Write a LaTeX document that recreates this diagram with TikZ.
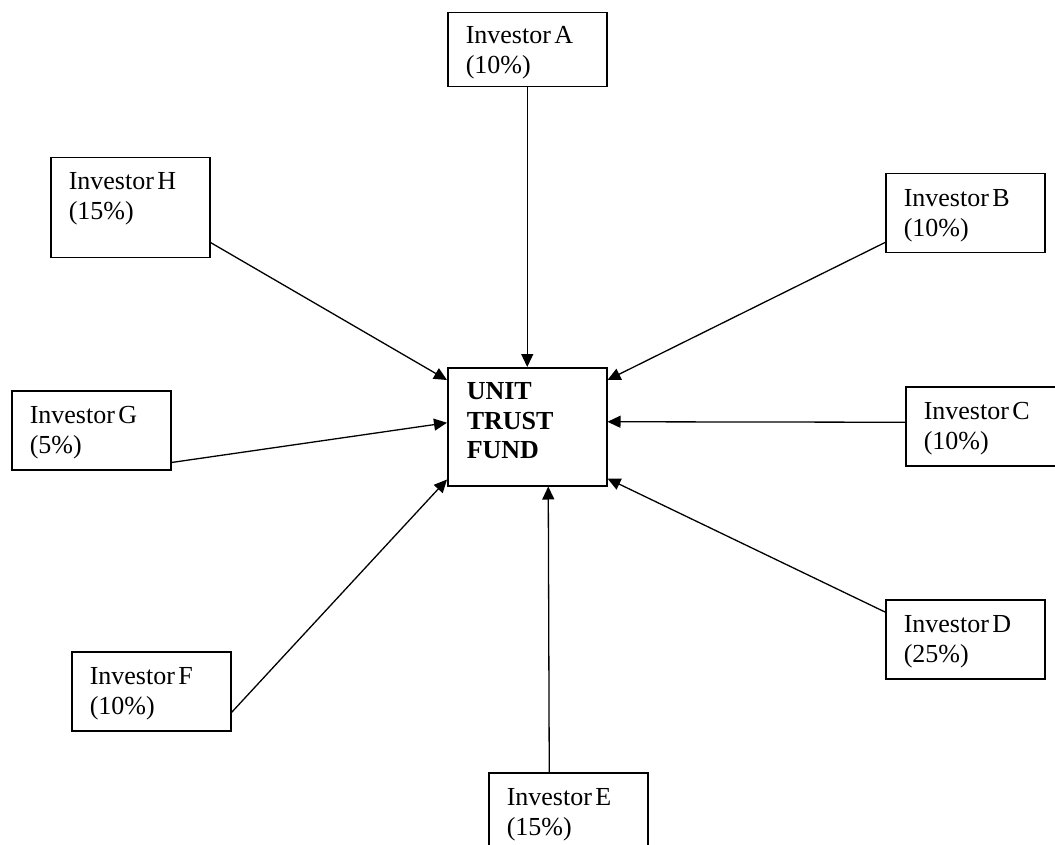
\documentclass[tikz,border=0pt]{standalone}
\usepackage{fontspec}
\setmainfont{Liberation Serif}
\usetikzlibrary{arrows.meta}

\begin{document}
\begin{tikzpicture}[x=1pt, y=-1pt, >={Triangle[length=13pt,width=12pt]},
    every node/.style={font={\fontsize{26}{30}\selectfont}},
    invbox/.style={draw, line width=1.5pt, anchor=north west, align=left, text width=123pt,
        inner xsep=18pt, inner ysep=0pt, text height=33pt, text depth=46pt,
        execute at begin node={\spaceskip=0.13em\relax}},
    link/.style={->, line width=1.3pt}]
            \useasboundingbox (0,0) rectangle (1055,845);
            \node[invbox, text width=121pt, inner xsep=19pt, text height=32pt, text depth=86pt,
                font={\fontsize{26}{29.5}\selectfont\bfseries}] (fund) at (447,367) {UNIT\\TRUST\\FUND};
            \node[invbox, text height=31pt, text depth=43pt] (invA) at (447,12) {Investor A\\(10\%)};
            \node[invbox] (invB) at (885,173) {Investor B\\(10\%)};
            \node[invbox] (invC) at (905,386) {Investor C\\(10\%)};
            \node[invbox] (invD) at (885,599) {Investor D\\(25\%)};
            \node[invbox] (invE) at (488,772) {Investor E\\(15\%)};
            \node[invbox] (invF) at (71,651) {Investor F\\(10\%)};
            \node[invbox] (invG) at (11,390) {Investor G\\(5\%)};
            \node[invbox, text height=32pt, text depth=68pt] (invH) at (50,157) {Investor H\\(15\%)};
            \draw[link] (invA.south) -- (fund.north);
            \draw[link] ([yshift=11pt]invB.south west) -- ([yshift=-13pt]fund.north east);
            \draw[link] ([yshift=4pt]invC.west) -- ([yshift=5pt]fund.east);
            \draw[link] ([yshift=-13pt]invD.north west) -- ([yshift=8pt]fund.south east);
            \draw[link] ([xshift=-19pt]invE.north) -- ([xshift=21pt]fund.south);
            \draw[link] ([yshift=19pt]invF.south east) -- ([yshift=7pt]fund.south west);
            \draw[link] ([yshift=8pt]invG.south east) -- ([yshift=4pt]fund.west);
            \draw[link] ([yshift=16pt]invH.south east) -- ([yshift=-13pt]fund.north west);
        \end{tikzpicture}
\end{document}
